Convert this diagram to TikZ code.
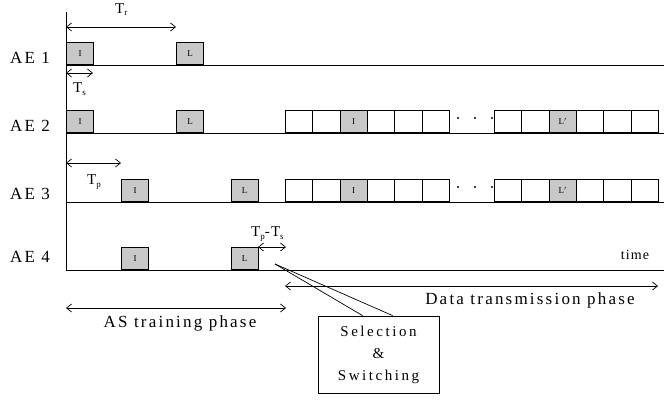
\documentclass[tikz,border=0pt]{standalone}
\usepackage{fontspec}
\setmainfont{Liberation Serif}
\usetikzlibrary{arrows.meta,calc}
\newcommand{\mysubT}[1]{T\raisebox{-2.5pt}{\fontsize{9}{9}\selectfont #1}}
\begin{document}
\begin{tikzpicture}[x=1pt,y=-1pt,
  ln/.style={line width=0.8pt},
  shd/.style={draw, line width=0.8pt, fill={rgb,255:red,200;green,200;blue,200}, minimum width=27.3pt, minimum height=22.5pt, inner sep=0pt, anchor=south west, font=\fontsize{9}{9}\selectfont},
  emp/.style={draw, line width=0.8pt, fill=white, minimum width=27.3pt, minimum height=22.5pt, inner sep=0pt, anchor=south west, font=\fontsize{9}{9}\selectfont},
  dimarr/.style={line width=0.7pt, {Straight Barb[length=5pt,width=8pt]}-{Straight Barb[length=5pt,width=8pt]}},
  big/.style={font=\fontsize{17}{17}\selectfont\addfontfeature{LetterSpace=13}},
  tlab/.style={anchor=base west, inner sep=0pt, font=\fontsize{15}{15}\selectfont\addfontfeature{LetterSpace=8}},
]
\useasboundingbox (0,0) rectangle (665,401);

% axis
\coordinate (axtop) at (66,12);
\coordinate (axbot) at (66,270);
\draw[ln] (axtop) -- (axbot);

% row labels
\node[big] (ae1) at (30,58) {AE 1};
\node[big] (ae2) at (30,126) {AE 2};
\node[big] (ae3) at (30,193.5) {AE 3};
\node[big] (ae4) at (30,256.5) {AE 4};

% baselines
\foreach \y/\n in {65/1,133/2,202/3,270/4}{
  \coordinate (b\n s) at (66,\y);
  \coordinate (b\n e) at (664,\y);
  \draw[ln] (b\n s) -- (b\n e);
}

% training boxes
\node[shd] (a1i) at (66,65) {I};
\node[shd] (a1l) at (176,65) {L};
\node[shd] (a2i) at (66,133) {I};
\node[shd] (a2l) at (176,133) {L};
\node[shd] (a3i) at (121,202) {I};
\node[shd] (a3l) at (230.5,202) {L};
\node[shd] (a4i) at (121,270) {I};
\node[shd] (a4l) at (230.5,270) {L};

% data boxes
\foreach \y/\r/\dy in {133/2/118,202/3/187}{
  \foreach \k in {0,...,5}{
    \ifnum\k=2
      \node[shd] (d\r a\k) at (285+27.33*\k,\y) {I};
    \else
      \node[emp] (d\r a\k) at (285+27.33*\k,\y) {};
    \fi
  }
  \foreach \k in {0,...,5}{
    \ifnum\k=2
      \node[shd] (d\r b\k) at (494+27.33*\k,\y) {L$'$};
    \else
      \node[emp] (d\r b\k) at (494+27.33*\k,\y) {};
    \fi
  }
  \foreach \xx in {458,475,492}{
    \fill (\xx,\dy) circle (1.1pt);
  }
}

% dimension arrows
\coordinate (tr1) at (66,27); \coordinate (tr2) at (176,27);
\draw[dimarr] (tr1) -- (tr2);
\node[tlab] (trl) at (115,13.5) {\mysubT{r}};

\coordinate (ts1) at (66,73); \coordinate (ts2) at (93,73);
\draw[dimarr] (ts1) -- (ts2);
\node[tlab] (tsl) at (73,93) {\mysubT{s}};

\coordinate (tp1) at (66,163); \coordinate (tp2) at (121,163);
\draw[dimarr] (tp1) -- (tp2);
\node[tlab] (tpl) at (87,185) {\mysubT{p}};

\coordinate (tq1) at (258,247); \coordinate (tq2) at (286,247);
\draw[dimarr] (tq1) -- (tq2);
\node[tlab] (tql) at (251,237) {\mysubT{p}-\mysubT{s}};

\node[font=\fontsize{14}{14}\selectfont\addfontfeature{LetterSpace=8}] (time) at (635,255) {time};

\coordinate (dt1) at (285,286); \coordinate (dt2) at (658,286);
\draw[dimarr] (dt1) -- (dt2);
\node[big] (dtl) at (530,300) {Data transmission phase};

\coordinate (as1) at (66,308); \coordinate (as2) at (286,308);
\draw[dimarr] (as1) -- (as2);
\node[big] (asl) at (180,323) {AS training phase};

% selection box
\node[draw, line width=0.8pt, minimum width=121pt, minimum height=77pt, align=center, inner sep=0pt,
  font=\fontsize{15}{22}\selectfont\addfontfeature{LetterSpace=17}] (sel) at (378.5,354.5) {Selection\\\&\\Switching};
\coordinate (apex) at (275,264);
\draw[line width=0.7pt] (apex) -- ($(sel.north west)+(45,0)$);
\draw[line width=0.7pt] (apex) -- ($(sel.north west)+(75,0)$);
\end{tikzpicture}
\end{document}
